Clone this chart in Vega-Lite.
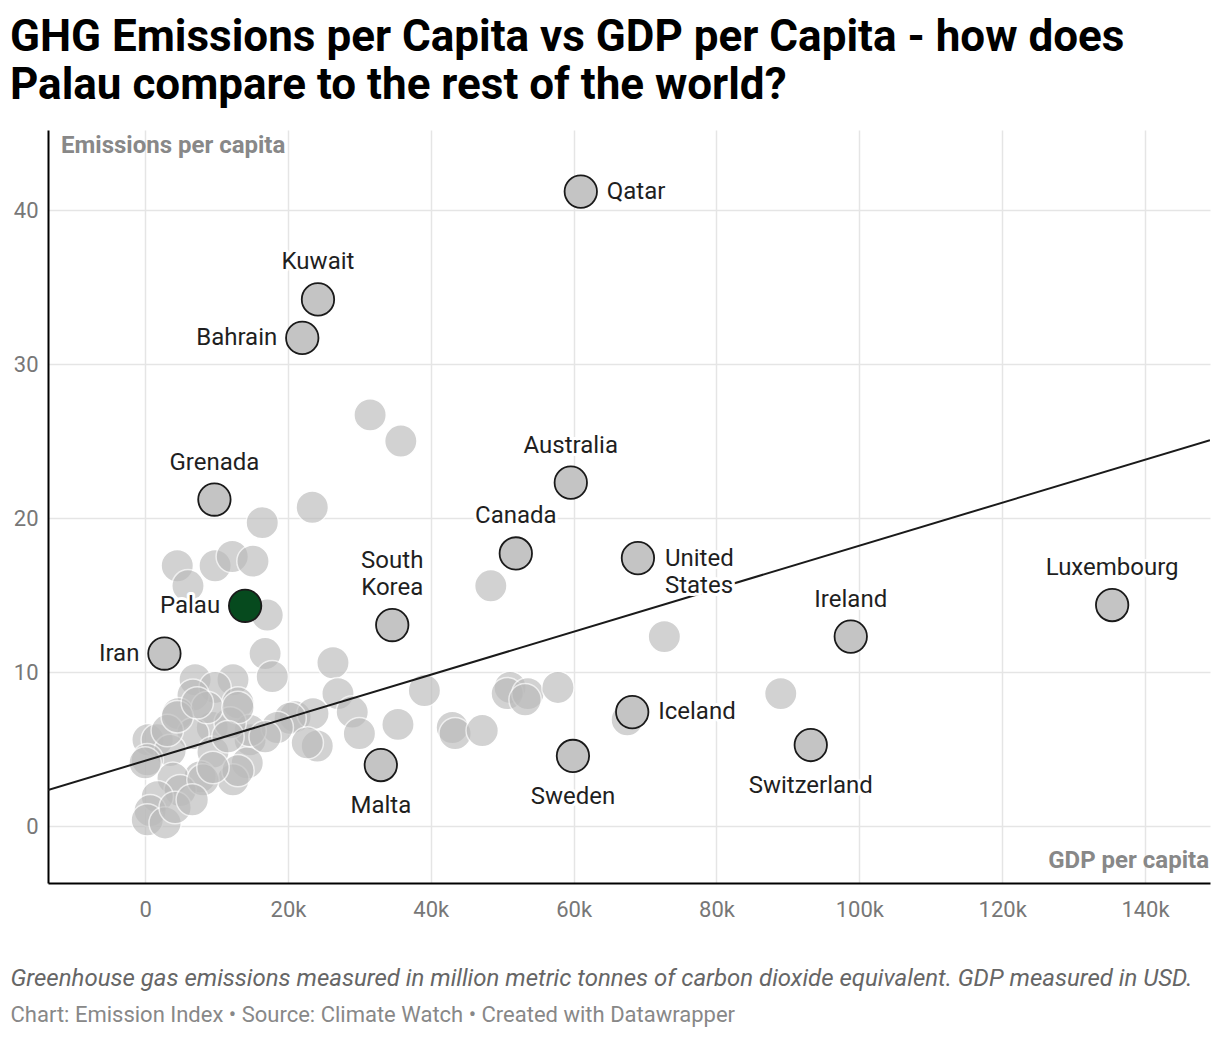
{
  "$schema": "https://vega.github.io/schema/vega-lite/v6.json",
  "width": 1162,
  "height": 753,
  "autosize": {"type": "none"},
  "padding": {"left": 48, "top": 130, "right": 10, "bottom": 155},
  "background": "white",
  "title": {
    "text": ["GHG Emissions per Capita vs GDP per Capita - how does", "Palau compare to the rest of the world?"],
    "anchor": "start",
    "frame": "group",
    "dx": -38,
    "offset": 22,
    "font": "Roboto",
    "fontSize": 44,
    "fontWeight": "bold",
    "color": "#000000",
    "lineHeight": 48
  },
  "datasets": {
    "countries": [
      {"country": "Qatar", "gdp": 61000, "emissions": 41.2},
      {"country": "Kuwait", "gdp": 24200, "emissions": 34.2},
      {"country": "Bahrain", "gdp": 22000, "emissions": 31.7},
      {"country": "Grenada", "gdp": 9700, "emissions": 21.2},
      {"country": "Australia", "gdp": 59600, "emissions": 22.3},
      {"country": "Canada", "gdp": 51900, "emissions": 17.7},
      {"country": "United States", "gdp": 69000, "emissions": 17.4},
      {"country": "South Korea", "gdp": 34600, "emissions": 13.05},
      {"country": "Palau", "gdp": 14000, "emissions": 14.3},
      {"country": "Iran", "gdp": 2700, "emissions": 11.2},
      {"country": "Luxembourg", "gdp": 135400, "emissions": 14.35},
      {"country": "Ireland", "gdp": 98800, "emissions": 12.3},
      {"country": "Iceland", "gdp": 68200, "emissions": 7.4},
      {"country": "Switzerland", "gdp": 93200, "emissions": 5.26},
      {"country": "Sweden", "gdp": 59900, "emissions": 4.55},
      {"country": "Malta", "gdp": 33000, "emissions": 3.96},
      {"gdp": 31500, "emissions": 26.7},
      {"gdp": 35800, "emissions": 25.0},
      {"gdp": 23400, "emissions": 20.7},
      {"gdp": 16400, "emissions": 19.7},
      {"gdp": 4500, "emissions": 16.9},
      {"gdp": 6000, "emissions": 15.6},
      {"gdp": 9800, "emissions": 16.9},
      {"gdp": 12200, "emissions": 17.5},
      {"gdp": 15100, "emissions": 17.2},
      {"gdp": 17100, "emissions": 13.7},
      {"gdp": 16800, "emissions": 11.2},
      {"gdp": 48400, "emissions": 15.6},
      {"gdp": 72700, "emissions": 12.3},
      {"gdp": 89000, "emissions": 8.6},
      {"gdp": 67500, "emissions": 6.9},
      {"gdp": 26300, "emissions": 10.6},
      {"gdp": 27000, "emissions": 8.6},
      {"gdp": 29000, "emissions": 7.4},
      {"gdp": 30000, "emissions": 6.0},
      {"gdp": 24100, "emissions": 5.2},
      {"gdp": 21000, "emissions": 7.1},
      {"gdp": 23500, "emissions": 7.3},
      {"gdp": 35400, "emissions": 6.6},
      {"gdp": 39100, "emissions": 8.8},
      {"gdp": 43000, "emissions": 6.4},
      {"gdp": 43400, "emissions": 6.0},
      {"gdp": 47200, "emissions": 6.2},
      {"gdp": 51100, "emissions": 9.0},
      {"gdp": 50700, "emissions": 8.6},
      {"gdp": 53600, "emissions": 8.6},
      {"gdp": 53200, "emissions": 8.2},
      {"gdp": 57800, "emissions": 9.0},
      {"gdp": 17800, "emissions": 9.7},
      {"gdp": 7000, "emissions": 9.5},
      {"gdp": 12300, "emissions": 9.5},
      {"gdp": 9800, "emissions": 9.0},
      {"gdp": 6700, "emissions": 8.5},
      {"gdp": 13000, "emissions": 8.0},
      {"gdp": 4600, "emissions": 7.3},
      {"gdp": 9400, "emissions": 6.4},
      {"gdp": 6700, "emissions": 6.0},
      {"gdp": 400, "emissions": 5.6},
      {"gdp": 1700, "emissions": 5.6},
      {"gdp": 3500, "emissions": 4.9},
      {"gdp": 300, "emissions": 4.3},
      {"gdp": 14700, "emissions": 5.6},
      {"gdp": 9500, "emissions": 4.8},
      {"gdp": 14300, "emissions": 4.1},
      {"gdp": 12300, "emissions": 3.0},
      {"gdp": 7700, "emissions": 3.2},
      {"gdp": 3900, "emissions": 3.1},
      {"gdp": 4900, "emissions": 2.3},
      {"gdp": 1700, "emissions": 1.9},
      {"gdp": 700, "emissions": 1.0},
      {"gdp": 300, "emissions": 0.4},
      {"gdp": 20300, "emissions": 7.0},
      {"gdp": 18500, "emissions": 6.4},
      {"gdp": 22700, "emissions": 5.4},
      {"gdp": 14700, "emissions": 6.2},
      {"gdp": 11900, "emissions": 6.7},
      {"gdp": 8700, "emissions": 7.7},
      {"gdp": 3100, "emissions": 6.2},
      {"gdp": 4500, "emissions": 7.1},
      {"gdp": 7300, "emissions": 8.0},
      {"gdp": 13000, "emissions": 7.7},
      {"gdp": 11600, "emissions": 5.8},
      {"gdp": 16800, "emissions": 5.8},
      {"gdp": 0, "emissions": 4.1},
      {"gdp": 8100, "emissions": 3.0},
      {"gdp": 13000, "emissions": 3.6},
      {"gdp": 2800, "emissions": 0.2},
      {"gdp": 4200, "emissions": 1.2},
      {"gdp": 6600, "emissions": 1.7},
      {"gdp": 9500, "emissions": 3.8}
    ],
    "trend": [
      {"gdp": -13600, "emissions": 2.34},
      {"gdp": 149100, "emissions": 25.06}
    ]
  },
  "layer": [
    {
      "data": {"name": "countries"},
      "transform": [{"filter": "!datum.country"}],
      "mark": {"type": "circle", "size": 1050, "fill": "#bbbbbb", "opacity": 0.65, "stroke": "white", "strokeWidth": 1.5},
      "encoding": {
        "x": {
          "field": "gdp",
          "type": "quantitative",
          "scale": {"domain": [-13600, 149100], "nice": false, "zero": false},
          "axis": {
            "values": [0, 20000, 40000, 60000, 80000, 100000, 120000, 140000],
            "labelExpr": "datum.value == 0 ? '0' : (datum.value / 1000) + 'k'",
            "domainColor": "#000000",
            "domainWidth": 2,
            "ticks": false,
            "tickSize": 0,
            "labelPadding": 16,
            "labelFont": "Roboto",
            "labelFontSize": 22,
            "labelColor": "#777777",
            "gridColor": "#e5e5e5",
            "gridWidth": 1.5,
            "title": "Greenhouse gas emissions measured in million metric tonnes of carbon dioxide equivalent. GDP measured in USD.",
            "titleFont": "Roboto",
            "titleFontSize": 24,
            "titleFontStyle": "italic",
            "titleFontWeight": "normal",
            "titleColor": "#666666",
            "titleX": -38,
            "titleY": 102,
            "titleAlign": "left",
            "titleBaseline": "alphabetic",
            "titleAnchor": null
          }
        },
        "y": {
          "field": "emissions",
          "type": "quantitative",
          "scale": {"domain": [-3.7, 45.2], "nice": false, "zero": false},
          "axis": {
            "values": [0, 10, 20, 30, 40],
            "domainColor": "#000000",
            "domainWidth": 2,
            "ticks": false,
            "tickSize": 0,
            "labelPadding": 10,
            "labelFont": "Roboto",
            "labelFontSize": 22,
            "labelColor": "#777777",
            "gridColor": "#e5e5e5",
            "gridWidth": 1.5,
            "title": "Chart: Emission Index • Source: Climate Watch • Created with Datawrapper",
            "titleFont": "Roboto",
            "titleFontSize": 22,
            "titleFontWeight": "normal",
            "titleColor": "#888888",
            "titleAngle": 0,
            "titleX": -38,
            "titleY": 891,
            "titleAlign": "left",
            "titleBaseline": "alphabetic"
          }
        }
      }
    },
    {
      "data": {"name": "trend"},
      "mark": {"type": "line", "color": "#1a1a1a", "strokeWidth": 2, "clip": true},
      "encoding": {
        "x": {"field": "gdp", "type": "quantitative"},
        "y": {"field": "emissions", "type": "quantitative"}
      }
    },
    {
      "data": {"name": "countries"},
      "transform": [{"filter": "datum.country"}],
      "mark": {"type": "circle", "size": 1050, "opacity": 1, "stroke": "#1a1a1a", "strokeWidth": 1.8},
      "encoding": {
        "x": {"field": "gdp", "type": "quantitative"},
        "y": {"field": "emissions", "type": "quantitative"},
        "fill": {"condition": {"test": "datum.country === 'Palau'", "value": "#064a1e"}, "value": "#c4c4c4"}
      }
    },
    {
      "data": {"name": "countries"},
      "transform": [{"filter": {"field": "country", "oneOf": ["Kuwait", "Grenada", "Australia", "Canada", "Luxembourg", "Ireland"]}}],
      "encoding": {
        "x": {"field": "gdp", "type": "quantitative"},
        "y": {"field": "emissions", "type": "quantitative"},
        "text": {"field": "country"}
      },
      "layer": [
        {"mark": {"type": "text", "align": "center", "baseline": "bottom", "dy": -25, "font": "Roboto", "fontSize": 24, "stroke": "white", "strokeWidth": 6, "strokeJoin": "round", "fill": "white"}},
        {"mark": {"type": "text", "align": "center", "baseline": "bottom", "dy": -25, "font": "Roboto", "fontSize": 24, "fill": "#1f1f1f"}}
      ]
    },
    {
      "data": {"name": "countries"},
      "transform": [{"filter": {"field": "country", "equal": "South Korea"}}],
      "encoding": {
        "x": {"field": "gdp", "type": "quantitative"},
        "y": {"field": "emissions", "type": "quantitative"},
        "text": {"field": "country"}
      },
      "layer": [
        {"mark": {"type": "text", "align": "center", "baseline": "bottom", "dy": -52, "lineBreak": " ", "lineHeight": 27, "font": "Roboto", "fontSize": 24, "stroke": "white", "strokeWidth": 6, "strokeJoin": "round", "fill": "white"}},
        {"mark": {"type": "text", "align": "center", "baseline": "bottom", "dy": -52, "lineBreak": " ", "lineHeight": 27, "font": "Roboto", "fontSize": 24, "fill": "#1f1f1f"}}
      ]
    },
    {
      "data": {"name": "countries"},
      "transform": [{"filter": {"field": "country", "oneOf": ["Malta", "Sweden", "Switzerland"]}}],
      "encoding": {
        "x": {"field": "gdp", "type": "quantitative"},
        "y": {"field": "emissions", "type": "quantitative"},
        "text": {"field": "country"}
      },
      "layer": [
        {"mark": {"type": "text", "align": "center", "baseline": "middle", "dy": 41, "font": "Roboto", "fontSize": 24, "stroke": "white", "strokeWidth": 6, "strokeJoin": "round", "fill": "white"}},
        {"mark": {"type": "text", "align": "center", "baseline": "middle", "dy": 41, "font": "Roboto", "fontSize": 24, "fill": "#1f1f1f"}}
      ]
    },
    {
      "data": {"name": "countries"},
      "transform": [{"filter": {"field": "country", "oneOf": ["Bahrain", "Palau", "Iran"]}}],
      "encoding": {
        "x": {"field": "gdp", "type": "quantitative"},
        "y": {"field": "emissions", "type": "quantitative"},
        "text": {"field": "country"}
      },
      "layer": [
        {"mark": {"type": "text", "align": "right", "baseline": "middle", "dx": -25, "font": "Roboto", "fontSize": 24, "stroke": "white", "strokeWidth": 6, "strokeJoin": "round", "fill": "white"}},
        {"mark": {"type": "text", "align": "right", "baseline": "middle", "dx": -25, "font": "Roboto", "fontSize": 24, "fill": "#1f1f1f"}}
      ]
    },
    {
      "data": {"name": "countries"},
      "transform": [{"filter": {"field": "country", "oneOf": ["Qatar", "Iceland"]}}],
      "encoding": {
        "x": {"field": "gdp", "type": "quantitative"},
        "y": {"field": "emissions", "type": "quantitative"},
        "text": {"field": "country"}
      },
      "layer": [
        {"mark": {"type": "text", "align": "left", "baseline": "middle", "dx": 26, "font": "Roboto", "fontSize": 24, "stroke": "white", "strokeWidth": 6, "strokeJoin": "round", "fill": "white"}},
        {"mark": {"type": "text", "align": "left", "baseline": "middle", "dx": 26, "font": "Roboto", "fontSize": 24, "fill": "#1f1f1f"}}
      ]
    },
    {
      "data": {"name": "countries"},
      "transform": [{"filter": {"field": "country", "equal": "United States"}}],
      "encoding": {
        "x": {"field": "gdp", "type": "quantitative"},
        "y": {"field": "emissions", "type": "quantitative"},
        "text": {"field": "country"}
      },
      "layer": [
        {"mark": {"type": "text", "align": "left", "baseline": "middle", "dx": 27, "dy": 1, "lineBreak": " ", "lineHeight": 27, "font": "Roboto", "fontSize": 24, "stroke": "white", "strokeWidth": 6, "strokeJoin": "round", "fill": "white"}},
        {"mark": {"type": "text", "align": "left", "baseline": "middle", "dx": 27, "dy": 1, "lineBreak": " ", "lineHeight": 27, "font": "Roboto", "fontSize": 24, "fill": "#1f1f1f"}}
      ]
    },
    {
      "data": {"values": [{"label": "Emissions per capita"}]},
      "mark": {"type": "text", "align": "left", "baseline": "middle", "dx": 13, "dy": 16, "font": "Roboto", "fontSize": 24, "fontWeight": "bold", "fill": "#888888"},
      "encoding": {
        "x": {"datum": -13600, "type": "quantitative"},
        "y": {"datum": 45.2, "type": "quantitative"},
        "text": {"field": "label"}
      }
    },
    {
      "data": {"values": [{"label": "GDP per capita"}]},
      "mark": {"type": "text", "align": "right", "baseline": "middle", "dx": -1, "dy": -22, "font": "Roboto", "fontSize": 24, "fontWeight": "bold", "fill": "#888888"},
      "encoding": {
        "x": {"datum": 149100, "type": "quantitative"},
        "y": {"datum": -3.7, "type": "quantitative"},
        "text": {"field": "label"}
      }
    }
  ],
  "config": {
    "view": {"stroke": null},
    "font": "Roboto"
  }
}
